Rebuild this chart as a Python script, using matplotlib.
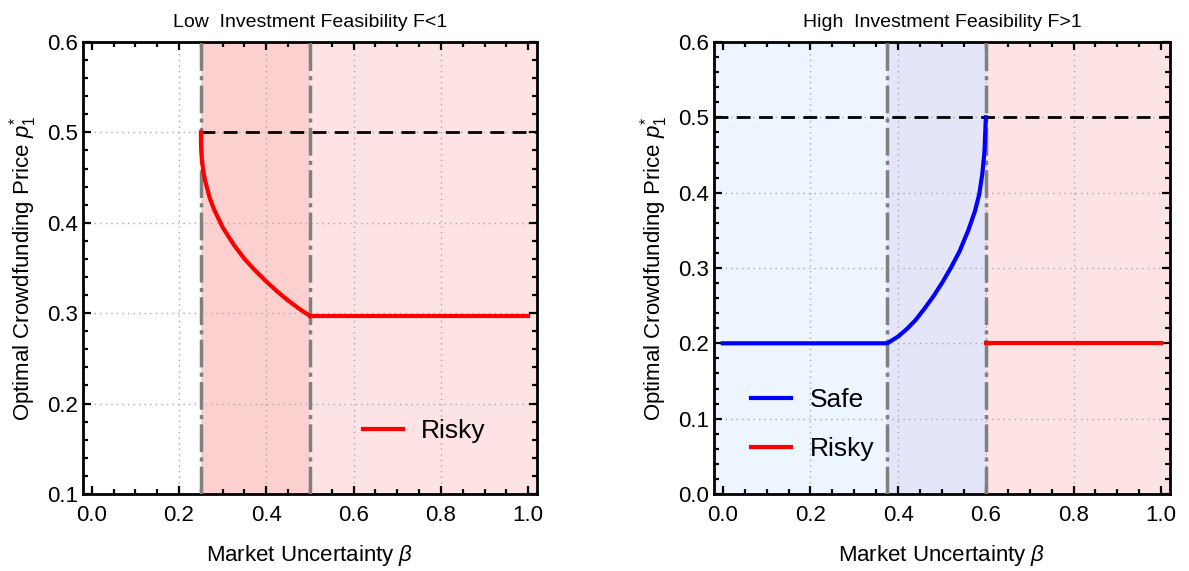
import numpy as np
import matplotlib
matplotlib.use("Agg")
import matplotlib.pyplot as plt
from matplotlib.ticker import MultipleLocator

plt.rcParams['font.family'] = ['Liberation Sans', 'DejaVu Sans']
plt.rcParams['mathtext.fontset'] = 'custom'
plt.rcParams['mathtext.rm'] = 'Liberation Sans'
plt.rcParams['mathtext.it'] = 'Liberation Sans:italic'

# left panel: F<1
low_beta_curve = [0.25, 0.2505, 0.252, 0.255, 0.26, 0.27, 0.28, 0.30, 0.325, 0.35,
                  0.375, 0.40, 0.425, 0.45, 0.475, 0.50]
low_p_curve = [0.50, 0.484, 0.472, 0.459, 0.446, 0.428, 0.415, 0.395, 0.376, 0.360,
               0.347, 0.335, 0.324, 0.314, 0.305, 0.297]
low_beta_flat = [0.50, 1.0]
low_p_flat = [0.297, 0.297]
low_bounds = [0.25, 0.5]

# right panel: F>1
high_beta_safe = [0.0, 0.375, 0.40, 0.42, 0.44, 0.46, 0.48, 0.50, 0.52, 0.54, 0.56, 0.575, 0.585, 0.592, 0.597, 0.60]
high_p_safe = [0.2, 0.200, 0.209, 0.219, 0.231, 0.246, 0.262, 0.280, 0.300, 0.322, 0.350, 0.375, 0.398, 0.425, 0.455, 0.500]
high_beta_risky = [0.6, 1.0]
high_p_risky = [0.2, 0.2]
high_bounds = [0.375, 0.6]

ref_price = 0.5

fig = plt.figure(figsize=(11.89, 5.71), dpi=100)
ax1 = fig.add_axes([0.0698, 0.1349, 0.3818, 0.7916])
ax2 = fig.add_axes([0.6005, 0.1349, 0.3835, 0.7916])

xlo, xhi = -0.02, 1.02
vstyle = dict(color='#808080', lw=2.5, linestyle=(0, (8, 1.5, 1.2, 1.5)), zorder=3)
gstyle = dict(color='#aaaaaa', lw=1.0, linestyle=(0, (1, 3)), zorder=1)


def style_axes(ax, ylim, yticks):
    ax.set_xlim(xlo, xhi)
    ax.set_ylim(*ylim)
    ax.set_xticks([0.0, 0.2, 0.4, 0.6, 0.8, 1.0])
    ax.set_xticklabels(['0.0', '0.2', '0.4', '0.6', '0.8', '1.0'])
    ax.set_yticks(yticks)
    ax.set_yticklabels(['%.1f' % t for t in yticks])
    ax.xaxis.set_minor_locator(MultipleLocator(0.05))
    ax.yaxis.set_minor_locator(MultipleLocator(0.02))
    ax.tick_params(which='both', direction='in', top=True, right=True, width=1.6, labelsize=16, colors='black')
    ax.tick_params(which='major', length=6)
    ax.tick_params(which='minor', length=3.5)
    ax.tick_params(axis='x', pad=8)
    for s in ax.spines.values():
        s.set_linewidth(2)
    for x in [0.2, 0.4, 0.6, 0.8]:
        ax.axvline(x, **gstyle)
    for y in yticks[1:-1]:
        ax.axhline(y, **gstyle)
    ax.set_xlabel(r'Market Uncertainty $\beta$', fontsize=16, labelpad=12)
    ax.set_ylabel(r'Optimal Crowdfunding Price $p_1^{*}$', fontsize=16, labelpad=6)


# left
ax1.axvspan(low_bounds[0], low_bounds[1], color='#fdd0d0', lw=0, zorder=0)
ax1.axvspan(low_bounds[1], xhi, color='#fde3e3', lw=0, zorder=0)
style_axes(ax1, (0.1, 0.6), [0.1, 0.2, 0.3, 0.4, 0.5, 0.6])
for b in low_bounds:
    ax1.axvline(b, **vstyle)
ax1.plot([low_bounds[0], xhi], [ref_price, ref_price], color='black', lw=2, linestyle=(0, (5, 3)), zorder=4)
ax1.plot(low_beta_curve, low_p_curve, color='red', lw=3, zorder=5, label='Risky')
ax1.plot(low_beta_flat, low_p_flat, color='red', lw=3, zorder=5)
ax1.legend(loc='lower right', bbox_to_anchor=(0.94, 0.06), frameon=False, fontsize=19,
           handlelength=1.5, handletextpad=0.7)
ax1.set_title('Low  Investment Feasibility F<1', fontsize=14, pad=11)

# right
ax2.axvspan(xlo, high_bounds[0], color='#edf5fe', lw=0, zorder=0)
ax2.axvspan(high_bounds[0], high_bounds[1], color='#e5e5fa', lw=0, zorder=0)
ax2.axvspan(high_bounds[1], xhi, color='#fde3e3', lw=0, zorder=0)
style_axes(ax2, (0.0, 0.6), [0.0, 0.1, 0.2, 0.3, 0.4, 0.5, 0.6])
for b in high_bounds:
    ax2.axvline(b, **vstyle)
ax2.axhline(ref_price, color='black', lw=2, linestyle=(0, (5, 3)), zorder=4)
ax2.plot(high_beta_safe, high_p_safe, color='blue', lw=3, zorder=5, label='Safe')
ax2.plot(high_beta_risky, high_p_risky, color='red', lw=3, zorder=5, label='Risky')
ax2.legend(loc='lower left', bbox_to_anchor=(0.03, 0.02), frameon=False, fontsize=19,
           handlelength=1.5, handletextpad=0.7, labelspacing=0.95)
ax2.set_title('High  Investment Feasibility F>1', fontsize=14, pad=11)

fig.savefig('out.png', dpi=100)
